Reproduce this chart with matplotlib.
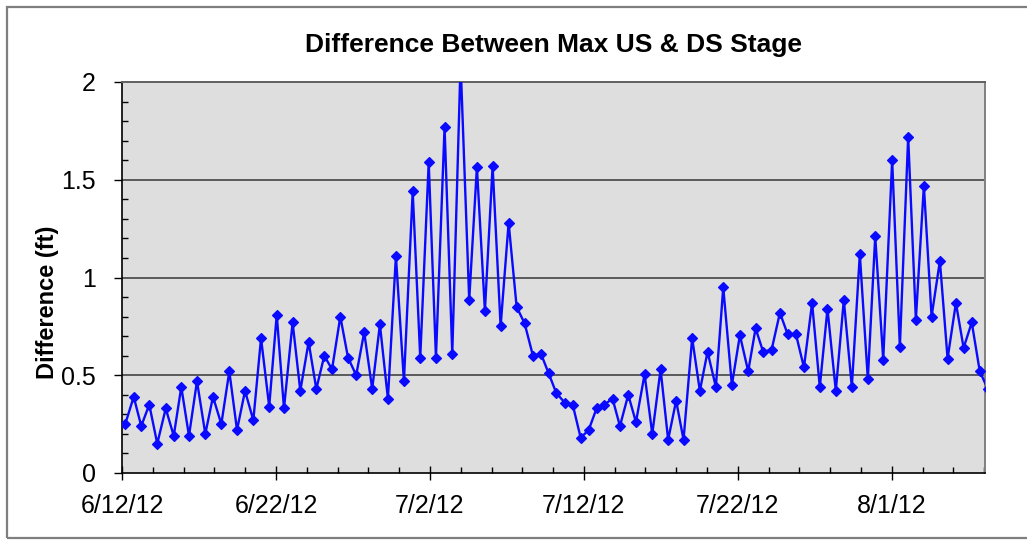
import matplotlib
matplotlib.use("Agg")
import matplotlib.pyplot as plt
from matplotlib.ticker import MultipleLocator, FixedLocator, FixedFormatter
from matplotlib.patches import Rectangle
import numpy as np
import pandas as pd

plt.rcParams['font.family'] = ['Liberation Sans', 'DejaVu Sans']

# Data: time of each max-stage reading (days after 6/12/12 00:00) and difference (ft)
start_date = pd.Timestamp("2012-06-12")
day_offset = [
    0.21, 0.76, 1.25, 1.77, 2.29, 2.84, 3.36, 3.85, 4.35, 4.87,
    5.41, 5.91, 6.45, 6.97, 7.47, 7.99, 8.53, 9.03, 9.56, 10.05,
    10.52, 11.08, 11.58, 12.12, 12.62, 13.14, 13.64, 14.18, 14.68, 15.21,
    15.73, 16.25, 16.75, 17.27, 17.79, 18.31, 18.88, 19.37, 19.92, 20.39,
    20.95, 21.45, 21.99, 22.55, 23.05, 23.57, 24.07, 24.59, 25.11, 25.63,
    26.15, 26.69, 27.21, 27.71, 28.20, 28.75, 29.27, 29.79, 30.31, 30.82,
    31.32, 31.86, 32.34, 32.88, 33.38, 33.94, 34.44, 34.98, 35.47, 35.99,
    36.47, 37.03, 37.53, 38.03, 38.57, 39.05, 39.61, 40.13, 40.67, 41.15,
    41.64, 42.19, 42.73, 43.23, 43.77, 44.29, 44.82, 45.32, 45.82, 46.36,
    46.88, 47.40, 47.92, 48.44, 48.92, 49.44, 50.02, 50.52, 51.06, 51.56,
    52.08, 52.58, 53.12, 53.62, 54.16, 54.66, 55.19, 55.71, 56.23,
]
difference_ft = [
    0.25, 0.39, 0.24, 0.35, 0.15, 0.33, 0.19, 0.44, 0.19, 0.47,
    0.20, 0.39, 0.25, 0.52, 0.22, 0.42, 0.27, 0.69, 0.34, 0.81,
    0.33, 0.77, 0.42, 0.67, 0.43, 0.60, 0.53, 0.80, 0.59, 0.50,
    0.72, 0.43, 0.76, 0.38, 1.11, 0.47, 1.44, 0.59, 1.59, 0.59,
    1.77, 0.61, 2.10, 0.885, 1.565, 0.83, 1.57, 0.75, 1.28, 0.85,
    0.765, 0.60, 0.61, 0.51, 0.41, 0.36, 0.35, 0.18, 0.22, 0.33,
    0.35, 0.38, 0.24, 0.40, 0.26, 0.505, 0.20, 0.53, 0.17, 0.37,
    0.17, 0.69, 0.42, 0.62, 0.44, 0.95, 0.45, 0.705, 0.52, 0.74,
    0.62, 0.63, 0.82, 0.71, 0.71, 0.54, 0.87, 0.44, 0.84, 0.42,
    0.885, 0.44, 1.12, 0.48, 1.21, 0.58, 1.60, 0.645, 1.72, 0.785,
    1.47, 0.80, 1.085, 0.585, 0.87, 0.64, 0.77, 0.52, 0.43,
]
tick_days = [0, 10, 20, 30, 40, 50]
tick_labels = ["6/12/12", "6/22/12", "7/2/12", "7/12/12", "7/22/12", "8/1/12"]
y_ticks = [0, 0.5, 1, 1.5, 2]
y_tick_labels = ["0", "0.5", "1", "1.5", "2"]
title = "Difference Between Max US & DS Stage"
ylabel = "Difference (ft)"

W, H = 1027, 540
fig = plt.figure(figsize=(W / 100, H / 100), dpi=100)
fig.patch.set_facecolor("white")

# outer frame of the chart
fig.patches.append(Rectangle((7 / W, 2 / H), 1.2, (H - 9) / H, transform=fig.transFigure,
                             fill=False, edgecolor="#7f7f7f", linewidth=1.6, zorder=0))

ax = fig.add_axes([122 / W, 67 / H, (985 - 122) / W, (473 - 82) / H])
ax.set_facecolor("#dedede")

ax.plot(day_offset, difference_ft, color="#0a0aff", linewidth=1.7,
        marker="D", markersize=5.2, markerfacecolor="#0a0aff",
        markeredgecolor="#0a0aff", markeredgewidth=0.9, zorder=3)

ax.set_xlim(0, 56.05)
ax.set_ylim(0, 2)

for yv in [0.5, 1.0, 1.5]:
    ax.axhline(yv, color="#505050", linewidth=1.3, zorder=1)

ax.xaxis.set_major_locator(FixedLocator(tick_days))
ax.xaxis.set_major_formatter(FixedFormatter(tick_labels))
ax.xaxis.set_minor_locator(MultipleLocator(2))
ax.yaxis.set_major_locator(FixedLocator(y_ticks))
ax.yaxis.set_major_formatter(FixedFormatter(y_tick_labels))
ax.yaxis.set_minor_locator(MultipleLocator(0.1))

ax.tick_params(axis="x", which="major", direction="inout", length=10, width=1.0,
               labelsize=18, pad=10, colors="black")
ax.tick_params(axis="x", which="minor", direction="in", length=4, width=1.0)
ax.tick_params(axis="y", which="major", direction="out", length=6, width=1.0,
               labelsize=18, pad=13)
ax.tick_params(axis="y", which="minor", direction="in", length=4, width=1.0)

for s in ["left", "bottom"]:
    ax.spines[s].set_color("black")
    ax.spines[s].set_linewidth(1.2)
ax.spines["top"].set_color("#606060")
ax.spines["top"].set_linewidth(1.4)
ax.spines["right"].set_color("#808080")
ax.spines["right"].set_linewidth(1.4)

fig.text((122 + 985) / 2 / W, 1 - 45 / H, title, ha="center", va="center",
         fontsize=19, fontweight="bold")
fig.text(48 / W, 1 - 302 / H, ylabel, ha="center", va="center", rotation=90,
         fontsize=17, fontweight="bold")

fig.savefig("out.png", dpi=100, facecolor="white")
